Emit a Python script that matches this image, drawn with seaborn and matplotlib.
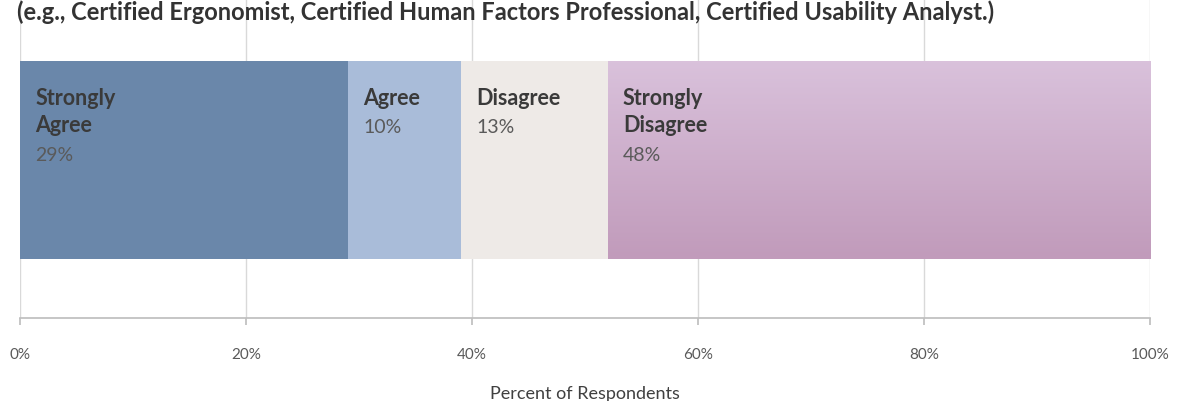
import matplotlib
matplotlib.use("Agg")
import matplotlib.pyplot as plt
from matplotlib.colors import LinearSegmentedColormap
import numpy as np
import pandas as pd
import seaborn as sns

# Survey responses (percent of respondents)
responses = ["Strongly Agree", "Agree", "Disagree", "Strongly Disagree"]
percents = [29, 10, 13, 48]
label_lines = ["Strongly\nAgree", "Agree", "Disagree", "Strongly\nDisagree"]
colors = ["#6A87AA", "#A9BCD9", "#EEEAE7", "#CBA8C8"]
question = "Certification"
title = "(e.g., Certified Ergonomist, Certified Human Factors Professional, Certified Usability Analyst.)"
x_ticks = [0, 20, 40, 60, 80, 100]

sns.set_theme(style="white")
plt.rcParams["font.family"] = ["Lato", "DejaVu Sans"]

starts = np.concatenate([[0], np.cumsum(percents)[:-1]])
ends = np.cumsum(percents)

# Stack by drawing cumulative totals, largest first, so each segment overlays the next
df = pd.DataFrame({"response": responses, "end": ends, "q": question})
order = responses[::-1]
palette = dict(zip(responses, colors))
bar_h = 0.625

fig = plt.figure(figsize=(11.78, 4.02), dpi=100)
ax = fig.add_axes([20 / 1178, 1 - 319 / 402, 1130 / 1178, 319 / 402])

sns.barplot(data=df, x="end", y="q", hue="response", hue_order=order,
            palette=palette, dodge=False, width=bar_h, legend=False,
            saturation=1, edgecolor="none", ax=ax, zorder=3)

# Soft vertical shading on the last segment
shade = LinearSegmentedColormap.from_list("shade", ["#D9C1DB", "#C19BBB"])
ax.imshow(np.linspace(0, 1, 64).reshape(-1, 1), cmap=shade, aspect="auto",
          origin="upper", extent=(starts[-1], ends[-1], bar_h / 2, -bar_h / 2),
          zorder=3.1, interpolation="bicubic")

ax.set_xlim(0, 100)
ax.set_ylim(0.5, -0.508)
ax.set_xticks(x_ticks)
ax.set_xticklabels([f"{t}%" for t in x_ticks])
ax.set_yticks([])
ax.set_ylabel("")
ax.set_xlabel("Percent of Respondents", fontsize=13, color="#404040", labelpad=17)

ax.grid(axis="x", color="#D9D9D9", linewidth=1, zorder=0)
for side in ["left", "right", "top"]:
    ax.spines[side].set_visible(False)
ax.spines["bottom"].set_color("#BFBFBF")
ax.tick_params(axis="x", bottom=True, length=5, color="#BFBFBF", pad=16,
               labelsize=11, labelcolor="#595959")

# Segment labels: category name in bold with its percentage underneath
bar_top = -bar_h / 2
for s, name, p in zip(starts, label_lines, percents):
    ax.annotate(name, xy=(s, bar_top), xytext=(11, -19), textcoords="offset points",
                fontsize=15.5, fontweight="bold", color="#3A3A3A",
                va="top", ha="left", linespacing=1.32, zorder=5)
    nlines = name.count("\n") + 1
    ax.annotate(f"{p}%", xy=(s, bar_top), xytext=(11, -20.5 - 20.5 * nlines),
                textcoords="offset points", fontsize=14, color="#5A5A5A",
                va="top", ha="left", zorder=5)

fig.text(17 / 1178, 1 - 20 / 402, title, fontsize=17, fontweight="bold",
         color="#333333", ha="left", va="baseline")

fig.savefig("out.png", dpi=100, facecolor="white")
